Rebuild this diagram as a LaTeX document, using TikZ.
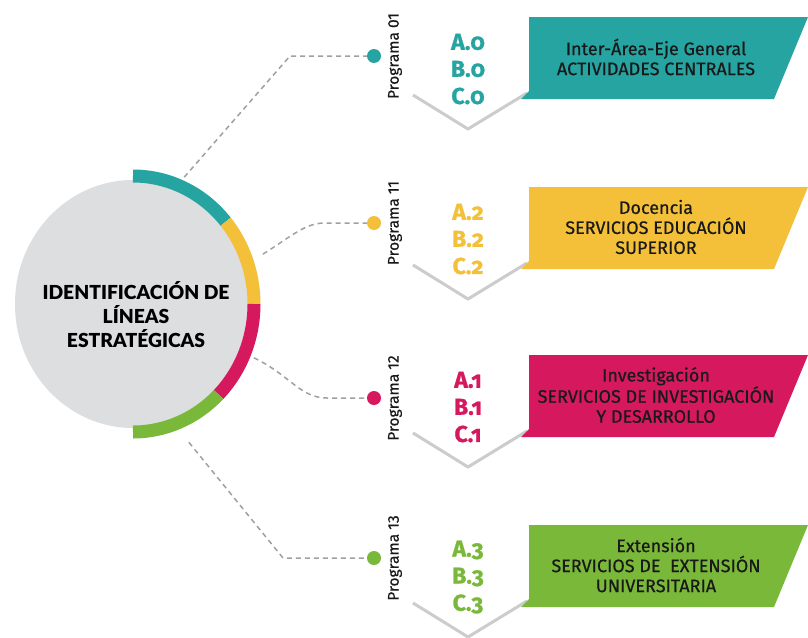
\documentclass[tikz,border=0pt]{standalone}
\usepackage{fontspec}
\setmainfont{Fira Sans}
\newfontfamily\labfont{Fira Sans}[Numbers=OldStyle, FakeBold=1.0]
\newfontfamily\banfont{Fira Sans}[FakeBold=0.5]
\newfontfamily\progfont{Fira Sans}[FakeBold=0.3]
\newfontfamily\titfont{Lato Black}
\usetikzlibrary{shapes.geometric,calc}
\definecolor{cteal}{RGB}{38,164,161}
\definecolor{cyell}{RGB}{244,192,58}
\definecolor{cmag}{RGB}{214,24,94}
\definecolor{cgreen}{RGB}{122,184,58}
\definecolor{hubgray}{RGB}{221,222,224}
\definecolor{conngray}{RGB}{160,160,160}
\tikzset{
  ringst/.style={line width=13},
  conn/.style={draw=conngray, line width=1.5, dash pattern=on 5 off 4},
  dotst/.style={circle, minimum size=14, inner sep=0},
  proglab/.style={rotate=90, font=\progfont\fontsize{15.5}{17}\selectfont, text=black!90},
  abcst/.style={font=\labfont\bfseries\fontsize{23}{25}\selectfont},
  bantext/.style={align=center, font=\banfont\fontsize{18}{20}\selectfont, text=black!90},
  chevsh/.style={draw=gray!40, line width=3, line join=round},
}
\newcommand{\mkblock}[9]{%
  \fill[white] (413,{#2+2}) -- (527,{#2+2}) -- (527,{#2+76}) -- (468,{#2+112}) -- (413,{#2+78}) -- cycle;
  \draw[chevsh] (413,{#2+78}) -- (468,{#2+112}) -- (527,{#2+76});
  \fill[#3] (529,#2) -- (808,#2) -- (774,{#2+82}) -- (521,{#2+82}) -- (529,{#2+74}) -- cycle;
  \node[bantext] (t#1) at (656,{#2+40}) {#9};
  \node[abcst, text=#3] (a#1) at (468,{#2+25}) {#6};
  \node[abcst, text=#3] (b#1) at (468,{#2+52}) {#7};
  \node[abcst, text=#3] (c#1) at (468,{#2+79}) {#8};
  \node[dotst, fill=#3] (d#1) at (374,#4) {};
  \node[proglab] (p#1) at (395,#4) {#5};
}
\begin{document}
\begin{tikzpicture}[x=1pt,y=-1pt]
\useasboundingbox (0,0) rectangle (808,637);
\fill[white] (0,0) rectangle (808,637);
% hub
\node[ellipse, fill=hubgray, minimum width=236, minimum height=248, inner sep=0] (hub) at (133,304) {};
\draw[ringst, draw=cteal] (hub.center) ++(-90:121 and 128) arc[start angle=-90, end angle=-40, x radius=121, y radius=128];
\draw[ringst, draw=cyell] (hub.center) ++(-40:121 and 128) arc[start angle=-40, end angle=0, x radius=121, y radius=128];
\draw[ringst, draw=cmag] (hub.center) ++(0:121 and 128) arc[start angle=0, end angle=45, x radius=121, y radius=128];
\draw[ringst, draw=cgreen] (hub.center) ++(45:121 and 128) arc[start angle=45, end angle=90, x radius=121, y radius=128];
\node[align=center, font=\titfont\fontsize{19.3}{24}\selectfont] (title) at (136,315) {IDENTIFICACIÓN DE\\LÍNEAS\\ESTRATÉGICAS};
% blocks
\mkblock{1}{17}{cteal}{56}{Programa 01}{A.0}{B.0}{C.0}{Inter-Área-Eje General\\ACTIVIDADES CENTRALES}
\mkblock{2}{187}{cyell}{223}{Programa 11}{A.2}{B.2}{C.2}{Docencia\\SERVICIOS EDUCACIÓN\\SUPERIOR}
\mkblock{3}{355}{cmag}{398}{Programa 12}{A.1}{B.1}{C.1}{Investigación\\SERVICIOS DE INVESTIGACIÓN\\Y DESARROLLO}
\mkblock{4}{525}{cgreen}{558}{Programa 13}{A.3}{B.3}{C.3}{Extensión\\SERVICIOS DE~~EXTENSIÓN\\UNIVERSITARIA}
% connectors
\coordinate (s1) at ($(hub.center)!1.11!(hub.68)$);
\coordinate (s2) at ($(hub.center)!1.17!(hub.21)$);
\coordinate (s3) at ($(hub.center)!1.11!(hub.-24)$);
\coordinate (s4) at ($(hub.center)!1.21!(hub.-68)$);
\coordinate (k1) at (290,56);
\coordinate (k2) at (325,223);
\coordinate (k3) at (327,398);
\coordinate (k4) at (283,558);
\draw[conn] (s1) -- (k1) -- (d1);
\draw[conn] (s2) .. controls (292,236) and (305,223) .. (k2) -- (d2);
\draw[conn] (s3) .. controls (290,375) and (300,398) .. (k3) -- (d3);
\draw[conn] (s4) -- (k4) -- (d4);
\end{tikzpicture}
\end{document}
